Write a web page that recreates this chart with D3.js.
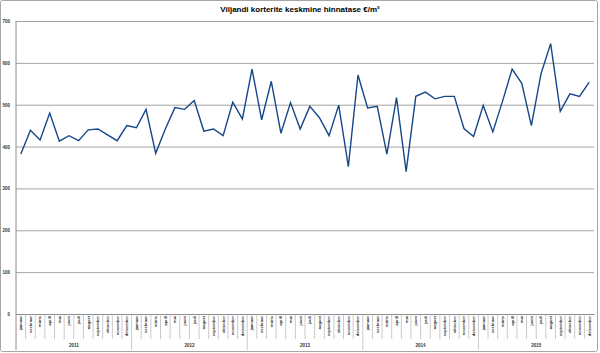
<!DOCTYPE html>
<html>
<head>
<meta charset="utf-8">
<script src="https://cdn.jsdelivr.net/npm/d3@7"></script>
<style>
  body { margin: 0; background: #fff; }
  text { font-family: "Liberation Sans", Arial, sans-serif; }
</style>
</head>
<body>
<script>
// andmed
var years = ["2011", "2012", "2013", "2014", "2015"];
var months = ["jaanuar", "veebruar", "märts", "aprill", "mai", "juuni", "juuli",
    "august", "september", "oktoober", "november", "detsember"];
var prices = [
    382, 439, 416, 480, 413, 426, 414, 440, 442, 428, 414, 450,
    445, 489, 384, 442, 493, 489, 510, 437, 442, 426, 506, 466,
    585, 464, 556, 432, 505, 442, 496, 469, 426, 499, 352, 571,
    492, 496, 382, 517, 340, 520, 530, 514, 520, 520, 443, 424,
    498, 435, 508, 585, 551, 450, 574, 646, 484, 526, 520, 554
];
var yTicks = [0, 100, 200, 300, 400, 500, 600, 700];

var data = [];
years.forEach((yr) => {
    months.forEach((m) => {
        data.push({key: yr + "-" + m, year: yr, month: m});
    });
});
data.forEach((d, i) => { d.value = prices[i]; });

var width = 600;
var height = 353;
var margin = {top: 21, right: 6, bottom: 39, left: 16};
var plotBottom = height - margin.bottom;

var svg = d3.select("body")
    .append("svg")
    .attr("width", width)
    .attr("height", height);

// raam
svg.append("rect")
    .attr("x", 0.5).attr("y", 0.5)
    .attr("width", width - 3).attr("height", height - 2)
    .attr("rx", 2)
    .attr("fill", "#fff")
    .attr("stroke", "#a6a6a6");

const x = d3.scaleBand()
    .domain(data.map(d => d.key))
    .range([margin.left, width - margin.right])
    .padding(0);

const y = d3.scaleLinear()
    .domain([0, 700])
    .range([plotBottom, margin.top]);

// ruudustik + y telg
var yAxis = d3.axisLeft(y)
    .tickValues(yTicks)
    .tickSize(-(width - margin.left - margin.right))
    .tickPadding(6);
var gy = svg.append("g")
    .attr("transform", `translate(${margin.left}, 0)`)
    .call(yAxis);
gy.select(".domain").remove();
gy.selectAll("line")
    .attr("stroke", "#8c8c8c")
    .attr("stroke-width", 0.8);
gy.selectAll("text")
    .attr("font-size", "4.5px")
    .attr("font-weight", "bold")
    .attr("fill", "#333");

// vasak telg alla välja
svg.append("line")
    .attr("x1", margin.left).attr("x2", margin.left)
    .attr("y1", margin.top).attr("y2", height - 3)
    .attr("stroke", "#8c8c8c");

// x telg: kuud
var xAxis = d3.axisBottom(x)
    .tickSize(0)
    .tickFormat(k => k.split("-")[1]);
var gx = svg.append("g")
    .attr("transform", `translate(0, ${plotBottom})`)
    .call(xAxis);
gx.select(".domain")
    .attr("stroke", "#8c8c8c");
gx.selectAll("text")
    .attr("transform", "rotate(-90)")
    .attr("x", -2)
    .attr("y", 0)
    .attr("dy", "0.35em")
    .attr("text-anchor", "end")
    .attr("font-size", "4px")
    .attr("font-weight", "bold")
    .attr("fill", "#333");

// kuude vahejooned
svg.append("g")
    .selectAll("line")
    .data(data.slice(1))
    .enter()
    .append("line")
    .attr("x1", d => x(d.key))
    .attr("x2", d => x(d.key))
    .attr("y1", plotBottom)
    .attr("y2", d => d.month === months[0] ? height - 3 : plotBottom + 25)
    .attr("stroke", "#a6a6a6")
    .attr("stroke-width", 0.6);

// aastad
svg.append("g")
    .selectAll("text")
    .data(years)
    .enter()
    .append("text")
    .attr("x", yr => (x(yr + "-" + months[0]) + x(yr + "-" + months[11]) + x.bandwidth()) / 2)
    .attr("y", height - 6)
    .attr("text-anchor", "middle")
    .attr("font-size", "4.5px")
    .attr("font-weight", "bold")
    .attr("fill", "#333")
    .text(yr => yr);

// joon
var line = d3.line()
    .x(d => x(d.key) + x.bandwidth() / 2)
    .y(d => y(d.value));
svg.append("path")
    .datum(data)
    .attr("d", line)
    .attr("fill", "none")
    .attr("stroke", "#16478a")
    .attr("stroke-width", 1.4)
    .attr("stroke-linejoin", "miter");

// pealkiri
svg.append("text")
    .attr("x", 300)
    .attr("y", 12)
    .attr("text-anchor", "middle")
    .attr("font-size", "8px")
    .attr("font-weight", "bold")
    .text("Viljandi korterite keskmine hinnatase €/m²");
</script>
</body>
</html>
